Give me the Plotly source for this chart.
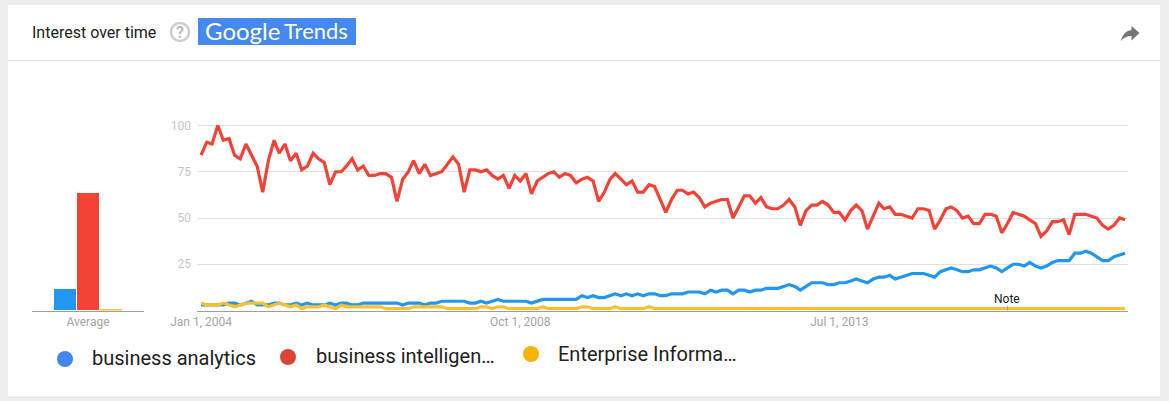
import plotly.graph_objects as go
import pandas as pd

W, H = 1169, 401
series_names = ["business analytics", "business intelligence", "Enterprise Information"]
legend_labels = ["business analytics", "business intelligen…", "Enterprise Informa…"]
months = pd.date_range("2004-01-01", periods=166, freq="MS")

business_intelligence = [
    84,91,90,100,92,93,84,82,90,84,78,64,81,92,85,90,81,85,76,78,85,82,80,68,75,75,78,82,76,78,
    73,73,74,74,72,59,71,75,81,74,79,73,74,75,79,83,79,64,76,76,75,76,73,71,73,66,73,70,74,63,
    70,72,74,75,72,74,73,69,71,72,70,59,64,71,74,71,68,70,64,64,68,67,60,53,60,65,65,63,64,61,
    56,58,59,60,60,50,56,62,62,58,61,56,55,55,57,60,56,46,54,57,57,59,57,53,53,49,54,57,54,44,
    51,58,55,56,52,52,51,50,55,55,54,44,49,55,56,54,50,51,47,47,52,52,51,42,47,53,52,51,49,47,
    40,43,48,48,49,41,52,52,52,51,50,46,44,46,50,49,
]
business_analytics = [
    3,3,3,3,3,4,4,3,4,5,3,3,3,4,4,3,3,4,3,4,3,3,3,4,3,4,4,3,3,4,
    4,4,4,4,4,4,3,4,4,4,3,4,4,5,5,5,5,5,4,4,5,4,5,6,5,5,5,5,5,4,
    5,6,6,6,6,6,6,6,8,7,8,7,7,8,9,8,9,8,9,8,9,9,8,8,9,9,9,10,10,10,
    9,11,10,11,11,9,11,11,10,11,11,12,12,12,13,14,13,11,13,15,15,15,14,14,15,15,16,17,16,15,
    17,18,18,19,17,18,19,20,20,20,19,18,21,22,23,22,21,21,22,22,23,24,23,21,23,25,25,24,26,24,
    23,24,26,27,27,27,31,31,32,31,29,27,27,29,30,31,
]
enterprise_information = [
    4,3,3,3,4,3,2,3,4,4,4,4,2,3,4,3,2,3,1,2,2,2,3,2,1,3,2,2,2,2,
    2,2,2,1,1,1,1,1,2,2,2,2,2,2,1,1,1,1,1,1,2,2,1,2,2,1,1,1,1,1,
    1,2,1,1,1,1,1,1,2,2,1,1,1,1,2,1,1,1,1,1,2,1,1,1,1,1,1,1,1,1,
    1,1,1,1,1,1,1,1,1,1,1,1,1,1,1,1,1,1,1,1,1,1,1,1,1,1,1,1,1,1,
    1,1,1,1,1,1,1,1,1,1,1,1,1,1,1,1,1,1,1,1,1,1,1,1,1,1,1,1,1,1,
    1,1,1,1,1,1,1,1,1,1,1,1,1,1,1,1,
]
average_values = [11.5, 63.5, 0.6]
y_ticks = [25, 50, 75, 100]
x_tick_dates = ["2004-01-01", "2008-10-01", "2013-07-01"]
x_tick_labels = ["Jan 1, 2004", "Oct 1, 2008", "Jul 1, 2013"]
note_date = "2016-01-01"

LINE = ["#2196F3", "#F44336", "#FBC02D"]
DOT = ["#4285F4", "#DB4437", "#F4B400"]
FONT = "Roboto"

px = lambda x: x / W
py = lambda y: 1 - y / H

fig = go.Figure()
for name, vals, col in zip(series_names, [business_analytics, business_intelligence, enterprise_information], LINE):
    fig.add_trace(go.Scatter(x=months, y=vals, name=name, mode="lines",
                             line=dict(color=col, width=3.2, shape="linear"), xaxis="x", yaxis="y"))
fig.add_trace(go.Bar(x=series_names, y=average_values, marker=dict(color=LINE, line_width=0),
                     width=0.96, xaxis="x2", yaxis="y2"))


def rect(x0, y0, x1, y1, fill, line=None):
    return dict(type="rect", xref="paper", yref="paper", x0=px(x0), x1=px(x1), y0=py(y0), y1=py(y1),
                fillcolor=fill, line=dict(width=0) if line is None else line, layer="below")


def circle(cx, cy, r, fill, line=None):
    return dict(type="circle", xref="paper", yref="paper", x0=px(cx - r), x1=px(cx + r), y0=py(cy + r), y1=py(cy - r),
                fillcolor=fill, line=dict(width=0) if line is None else line, layer="below")


share_path = (f"M {px(1139.5)} {py(33)} L {px(1131.5)} {py(26)} L {px(1131.5)} {py(30)} "
              f"Q {px(1123)} {py(31)} {px(1121)} {py(41)} Q {px(1125)} {py(36)} {px(1131.5)} {py(36)} "
              f"L {px(1131.5)} {py(40.5)} Z")

shapes = [
    rect(8, 7, 1160, 398, "#e2e2e2"),
    rect(8, 5, 1160, 396.5, "#ffffff"),
    rect(8, 60, 1160, 61, "#e3e3e3"),
    rect(198, 18, 356, 45, "#4688F1"),
    circle(180, 32, 9, "rgba(0,0,0,0)", dict(color="#cccccc", width=2.4)),
    circle(65, 359, 8, DOT[0]),
    circle(288, 357, 8, DOT[1]),
    circle(531, 354, 8, DOT[2]),
    dict(type="path", xref="paper", yref="paper", path=share_path, fillcolor="#757575", line=dict(width=0), layer="below"),
    dict(type="line", xref="x", yref="y", x0=note_date, x1=note_date, y0=0, y1=2.4,
         line=dict(color="#9e9e9e", width=1)),
]


def text(x, y, s, size, color, anchor="left", family=FONT):
    return dict(xref="paper", yref="paper", x=px(x), y=py(y), text=s, showarrow=False, xanchor=anchor, yanchor="middle",
                font=dict(family=family, size=size, color=color), borderpad=0, borderwidth=0)


annotations = [
    text(32, 32, "Interest over time", 16, "#212121"),
    text(180, 32, "<b>?</b>", 16, "#bdbdbd", "center"),
    text(205, 31, "Google", 24, "#ffffff", family="Lato"),
    text(284, 31, "Trends", 22, "#ffffff", family="Lato"),
    text(92, 358, legend_labels[0], 20, "#212121"),
    text(316, 356, legend_labels[1], 20, "#212121"),
    text(558, 354, legend_labels[2], 20, "#212121"),
    dict(x=note_date, y=0, xref="x", yref="y", text="Note", showarrow=False, yanchor="bottom", yshift=3,
         font=dict(family=FONT, size=12, color="#212121")),
]

y_top = 105
axis_top = 310.5 - y_top * 1.85
layout_axis_y = dict(range=[0, y_top], domain=[py(310.5), py(axis_top)], fixedrange=True, automargin=False)

fig.update_layout(
    width=W, height=H, autosize=False, margin=dict(l=0, r=0, t=0, b=0),
    paper_bgcolor="#eeeeee", plot_bgcolor="rgba(0,0,0,0)", showlegend=False,
    font=dict(family=FONT), shapes=shapes, annotations=annotations, bargap=0,
    xaxis=dict(type="date", domain=[px(197), px(1128)], range=["2003-12-10", "2017-10-17"], automargin=False,
               tickmode="array", tickvals=x_tick_dates, ticktext=x_tick_labels,
               tickfont=dict(family=FONT, size=12, color="#a3a3a3"), showgrid=False, zeroline=False,
               showline=True, linecolor="#9e9e9e", linewidth=1, ticks="", anchor="y", ticklabelstandoff=0),
    yaxis=dict(**layout_axis_y, anchor="x", tickmode="array", tickvals=y_ticks,
               tickfont=dict(family=FONT, size=12, color="#c4c4c4"), showgrid=True, gridcolor="#e0e0e0",
               gridwidth=1, zeroline=False, showline=False, ticks="", ticklabelstandoff=5),
    xaxis2=dict(type="category", domain=[px(32), px(144)], range=[-1.435, 3.435], anchor="y2", automargin=False,
                tickmode="array", tickvals=[series_names[1]], ticktext=["Average"],
                tickfont=dict(family=FONT, size=12, color="#a3a3a3"), showgrid=False, zeroline=False,
                showline=True, linecolor="#9e9e9e", linewidth=1, ticks="", ticklabelstandoff=0),
    yaxis2=dict(**layout_axis_y, anchor="x2", visible=False),
)

fig.write_html("out.html", config=dict(displayModeBar=False),
               post_script="document.body.style.margin='0';document.body.style.overflow='hidden';document.body.style.background='#eeeeee';")
